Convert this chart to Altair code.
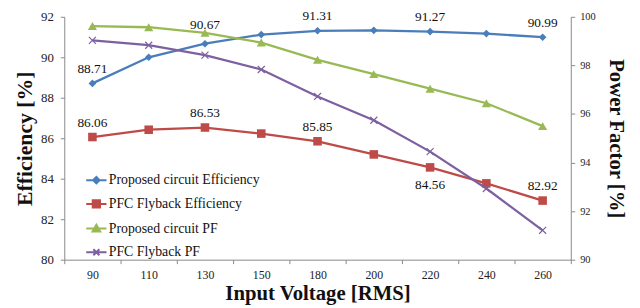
import altair as alt
import pandas as pd

# ---- data ----
voltages = ["90", "110", "130", "150", "180", "200", "220", "240", "260"]
series_names = [
    "Proposed circuit Efficiency",
    "PFC Flyback Efficiency",
    "Proposed circuit PF",
    "PFC Flyback PF",
]
prop_eff = [88.71, 90.00, 90.67, 91.12, 91.31, 91.33, 91.27, 91.17, 90.99]
fly_eff = [86.06, 86.42, 86.53, 86.23, 85.85, 85.20, 84.56, 83.77, 82.92]
prop_pf = [99.62, 99.57, 99.34, 98.94, 98.23, 97.64, 97.04, 96.44, 95.50]
fly_pf = [99.03, 98.83, 98.42, 97.83, 96.72, 95.74, 94.45, 92.93, 91.21]

# data labels (which points carry a value label)
prop_eff_label_x = ["90", "180", "220", "260"]
prop_eff_label_high_x = ["130"]
fly_eff_label_above_x = ["90", "130", "180", "260"]
fly_eff_label_below_x = ["220"]

colors = ["#4A7EBB", "#BE4B48", "#98B954", "#7D60A0"]

FONT = "Liberation Serif"

xdomain = voltages


def df(vals, name):
    return pd.DataFrame({"V": voltages, "val": vals, "series": name})


eff_data = {series_names[0]: prop_eff, series_names[1]: fly_eff}
pf_data = {series_names[2]: prop_pf, series_names[3]: fly_pf}

xenc = alt.X(
    "V:N",
    sort=xdomain,
    scale=alt.Scale(domain=xdomain, paddingInner=0, paddingOuter=0),
    axis=alt.Axis(
        title="Input Voltage [RMS]",
        labelAngle=0,
        tickBand="extent",
        tickSize=4,
        labelPadding=6,
        titlePadding=2,
        domainColor="#888888",
        tickColor="#888888",
        labelFont=FONT,
        labelFontSize=12,
        labelColor="#222222",
        titleFont=FONT,
        titleFontSize=21,
        titleFontWeight="bold",
        titleColor="#111111",
        grid=False,
    ),
)

y_left = alt.Y(
    "val:Q",
    scale=alt.Scale(domain=[80, 92], nice=False, zero=False),
    axis=alt.Axis(
        title="Efficiency [%]",
        values=[80, 82, 84, 86, 88, 90, 92],
        tickSize=4,
        labelPadding=7,
        titlePadding=4,
        domainColor="#888888",
        tickColor="#888888",
        labelFont=FONT,
        labelFontSize=13,
        labelColor="#222222",
        titleFont=FONT,
        titleFontSize=22,
        titleFontWeight="bold",
        titleColor="#111111",
        grid=False,
    ),
)

y_right = alt.Y(
    "val:Q",
    scale=alt.Scale(domain=[90, 100], nice=False, zero=False),
    axis=alt.Axis(
        title="Power Factor [%]",
        orient="right",
        values=[90, 92, 94, 96, 98, 100],
        tickSize=4,
        labelPadding=5,
        titlePadding=10,
        domainColor="#888888",
        tickColor="#888888",
        labelFont=FONT,
        labelFontSize=10.5,
        labelColor="#222222",
        titleFont=FONT,
        titleFontSize=21,
        titleFontWeight="bold",
        titleColor="#111111",
        grid=False,
    ),
)

XPATH = "M-1,-1L1,1M1,-1L-1,1"
marker_shapes = ["diamond", "square", "triangle-up", XPATH]
marker_sizes = [60, 75, 85, 50]
marker_filled = [True, True, True, False]


def series_layers(data_map, yenc, offset):
    layers = []
    for i, (name, vals) in enumerate(data_map.items()):
        k = offset + i
        d = df(vals, name)
        line = alt.Chart(d).mark_line(color=colors[k], strokeWidth=2.3).encode(
            x=xenc, y=yenc
        )
        pts = alt.Chart(d).mark_point(
            shape=marker_shapes[k],
            size=marker_sizes[k],
            filled=marker_filled[k],
            color=colors[k],
            opacity=1,
            strokeWidth=1.2,
        ).encode(x=xenc, y=yenc)
        layers += [line, pts]
    return layers


# legend layer (invisible marks, visible legend)
legend_paths = [
    "M-1,0H1M0,-0.32L0.32,0L0,0.32L-0.32,0Z",
    "M-1,0H1M-0.36,-0.36H0.36V0.36H-0.36Z",
    "M-1,0H1M0,-0.38L0.38,0.3H-0.38Z",
    "M-1,0H1M-0.3,-0.3L0.3,0.3M0.3,-0.3L-0.3,0.3",
]
leg_df = pd.concat([df(v, n) for n, v in eff_data.items()])
leg_scale_c = alt.Scale(domain=series_names, range=colors)
legend = alt.Legend(
    title=None,
    orient="none",
    legendX=21,
    legendY=154,
    labelFont=FONT,
    labelFontSize=14,
    labelColor="#111111",
    symbolSize=420,
    symbolStrokeWidth=2,
    symbolOpacity=1,
    rowPadding=5,
    labelOffset=1,
)
legend_layer = alt.Chart(leg_df).mark_point(opacity=0, filled=False).encode(
    x=xenc,
    y=y_left,
    stroke=alt.Stroke("series:N", scale=leg_scale_c, legend=legend, sort=series_names),
    fill=alt.Fill("series:N", scale=alt.Scale(domain=series_names, range=colors[:3] + ["transparent"]), legend=legend, sort=series_names),
    shape=alt.Shape(
        "series:N",
        scale=alt.Scale(domain=series_names, range=legend_paths),
        legend=legend,
        sort=series_names,
    ),
)

# data labels
lab_style = dict(font=FONT, fontSize=13.5, color="#111111", baseline="alphabetic")
d_pe = df(prop_eff, series_names[0])
d_fe = df(fly_eff, series_names[1])
txt = alt.Text("val:Q", format=".2f")
lab1 = alt.Chart(d_pe[d_pe["V"].isin(prop_eff_label_x)]).mark_text(dy=-10.5, **lab_style).encode(
    x=xenc, y=y_left, text=txt
)
lab1b = alt.Chart(d_pe[d_pe["V"].isin(prop_eff_label_high_x)]).mark_text(dy=-15, **lab_style).encode(
    x=xenc, y=y_left, text=txt
)
lab2 = alt.Chart(d_fe[d_fe["V"].isin(fly_eff_label_above_x)]).mark_text(dy=-10.5, **lab_style).encode(
    x=xenc, y=y_left, text=txt
)
lab3 = alt.Chart(d_fe[d_fe["V"].isin(fly_eff_label_below_x)]).mark_text(dy=21.5, **lab_style).encode(
    x=xenc, y=y_left, text=txt
)

left = alt.layer(*series_layers(eff_data, y_left, 0), legend_layer, lab1, lab1b, lab2, lab3)
right = alt.layer(*series_layers(pf_data, y_right, 2))

chart = (
    alt.layer(left, right)
    .resolve_scale(y="independent")
    .properties(
        width=513,
        height=246,
        autosize=alt.AutoSizeParams(type="none"),
        padding={"left": 57, "top": 7, "right": 62, "bottom": 45},
        background="white",
    )
    .configure_view(stroke=None)
)

chart.save("out.html", embed_options={"renderer": "svg", "actions": False})
